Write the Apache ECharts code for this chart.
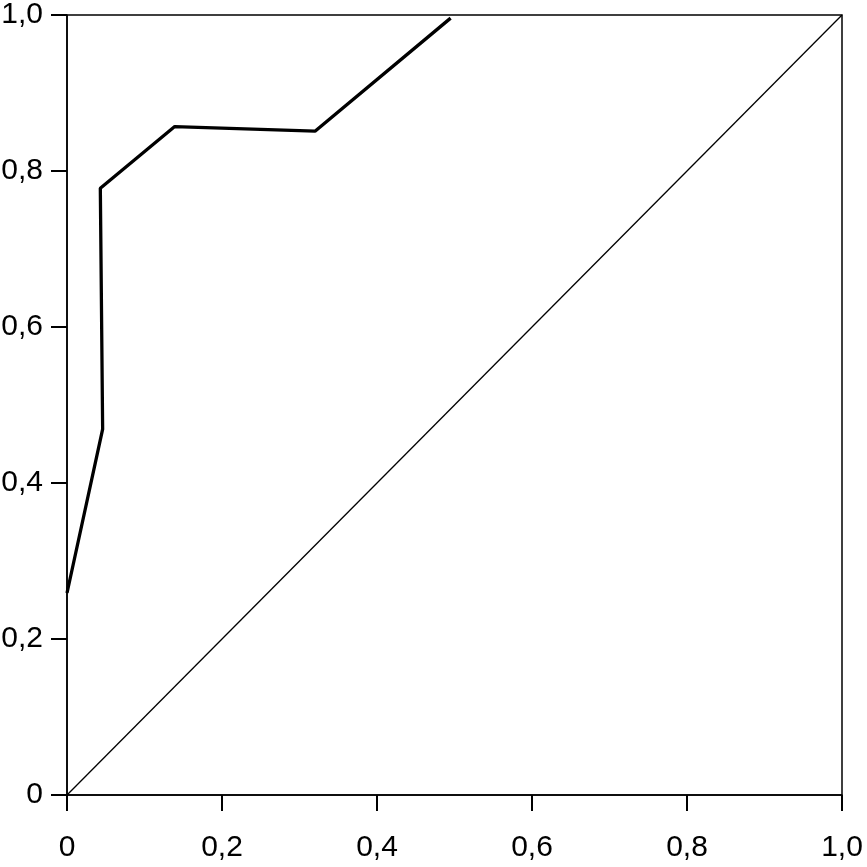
<!DOCTYPE html>
<html><head><meta charset="utf-8">
<script src="https://cdn.jsdelivr.net/npm/echarts@6/dist/echarts.min.js"></script>
<style>html,body{margin:0;padding:0;background:#fff}#c{width:867px;height:867px}</style>
</head><body><div id="c"></div>
<script>
var rocX = [0, 0.046, 0.043, 0.139, 0.32, 0.495];
var rocY = [0.259, 0.469, 0.778, 0.857, 0.851, 0.996];
var refX = [0, 1];
var refY = [0, 1];

function fmt(v){ return Math.abs(v) < 1e-9 ? '0' : v.toFixed(1).replace('.', ','); }
function pairs(a,b){ return a.map(function(x,i){ return [x,b[i]]; }); }
function axis(margin){
  return {
    type: 'value', min: 0, max: 1, interval: 0.2,
    axisLine: {show: true, onZero: false, lineStyle: {color: '#000', width: 1.5}},
    axisTick: {show: true, inside: false, length: 16, lineStyle: {color: '#000', width: 2}},
    splitLine: {show: false},
    axisLabel: {formatter: fmt, color: '#000', fontFamily: '"Liberation Sans", Arial, sans-serif', fontSize: 30, margin: margin}
  };
}

var chart = echarts.init(document.getElementById('c'));
chart.setOption({
  animation: false,
  backgroundColor: '#fff',
  grid: {left: 67, right: 25, top: 15, bottom: 72, show: true, borderColor: '#000', borderWidth: 1.5, containLabel: false, outerBoundsMode: 'none'},
  xAxis: axis(38),
  yAxis: axis(24),
  series: [
    {type: 'line', data: pairs(refX, refY), symbol: 'none', lineStyle: {color: '#000', width: 1.3}},
    {type: 'line', data: pairs(rocX, rocY), symbol: 'none', lineStyle: {color: '#000', width: 3.3}}
  ]
});
</script></body></html>
